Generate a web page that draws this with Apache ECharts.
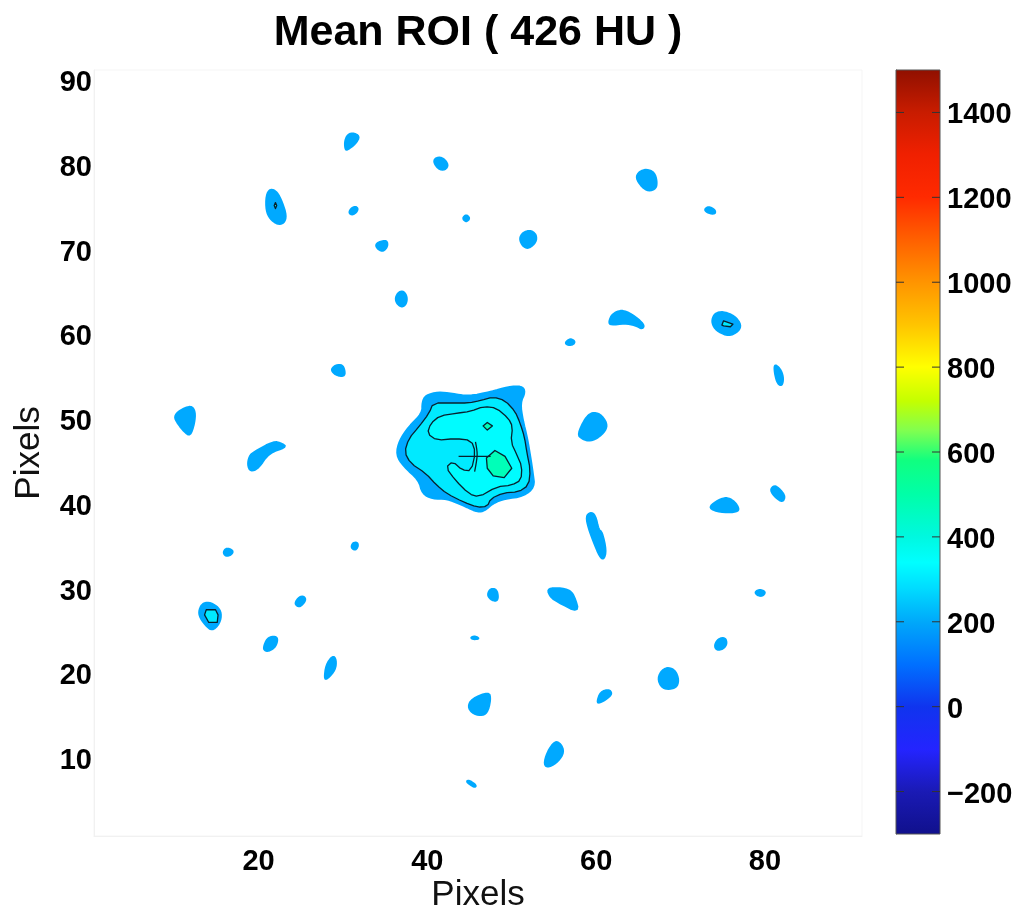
<!DOCTYPE html>
<html>
<head>
<meta charset="utf-8">
<script src="https://cdn.jsdelivr.net/npm/echarts@6/dist/echarts.min.js"></script>
<style>html,body{margin:0;padding:0;background:#fff}#chart{width:1021px;height:914px}</style>
</head>
<body>
<div id="chart"></div>
<script>
// Tick labels
const xTicks = [20, 40, 60, 80];
const yTicks = [10, 20, 30, 40, 50, 60, 70, 80, 90];
const barTicks = [-200, 0, 200, 400, 600, 800, 1000, 1200, 1400];
const barRange = [-300, 1500];

// Colour scale: [HU, colour]
const barStops = [
  [-300, '#10108c'], [-200, '#1a1ab4'], [-100, '#2424ff'], [0, '#1034ee'], [100, '#0070ff'],
  [200, '#00a8fa'], [280, '#00dcff'], [340, '#00ffff'], [400, '#00f8e0'], [500, '#00ffa8'],
  [580, '#10ff80'], [650, '#80ff50'], [720, '#c4ff00'], [800, '#ffff00'], [900, '#ffc400'],
  [1000, '#ff9400'], [1100, '#ff6000'], [1200, '#ff2a00'], [1300, '#f02000'], [1400, '#c81c00'],
  [1500, '#901000']
];

// Contour regions, in pixel-grid data units
const levelOneBlobs = [
  [[21.4,77.2],[22.2,76.8],[22.8,75.6],[23.3,74.0],[23.0,73.1],[22.2,73.0],[21.4,73.6],[20.9,74.6],[20.9,76.4]],
  [[30.3,81.7],[30.2,82.7],[30.5,83.5],[31.1,83.8],[32.0,83.4],[31.5,82.5],[30.7,81.9]],
  [[30.7,74.4],[31.0,74.9],[31.5,75.1],[31.8,74.8],[31.5,74.3],[31.0,74.1]],
  [[33.85,70.5],[34.2,70.9],[35.2,71.1],[35.3,70.4],[34.8,69.8],[34.2,70.0]],
  [[40.7,80.4],[41.1,80.9],[41.9,80.8],[42.5,80.0],[42.1,79.4],[41.3,79.5]],
  [[44.15,73.7],[44.6,74.15],[45.05,73.7],[44.6,73.25]],
  [[50.9,71.3],[51.3,72.0],[52.2,72.3],[52.9,71.8],[52.9,70.9],[52.0,70.1],[51.3,70.4]],
  [[64.7,78.5],[65.1,79.2],[66.0,79.5],[66.9,79.1],[67.2,78.1],[67.1,77.2],[66.2,76.9],[65.4,77.4]],
  [[72.8,74.7],[73.3,75.1],[74.1,74.7],[74.1,74.2],[73.3,74.3]],
  [[61.5,61.5],[61.9,62.4],[63.0,62.9],[64.2,62.4],[65.7,61.2],[65.5,60.6],[64.6,61.1],[63.4,61.3],[61.7,61.1]],
  [[73.7,61.7],[74.1,62.5],[75.0,62.7],[76.4,62.2],[77.2,61.1],[76.8,60.3],[75.7,59.8],[74.5,60.3],[73.9,60.9]],
  [[56.3,59.0],[56.9,59.5],[57.5,59.2],[57.3,58.8],[56.7,58.7]],
  [[81.1,56.2],[81.3,56.4],[81.9,55.8],[82.2,54.8],[82.0,53.9],[81.5,54.2],[81.2,55.2]],
  [[36.2,64.3],[36.6,65.0],[37.2,65.1],[37.6,64.4],[37.5,63.6],[37.0,63.2],[36.4,63.6]],
  [[28.6,55.9],[29.2,56.4],[29.9,56.4],[30.2,55.8],[30.2,55.1],[29.5,55.1],[28.9,55.4]],
  [[57.8,48.2],[58.7,50.1],[59.5,50.8],[60.5,50.6],[61.3,49.5],[61.1,48.6],[60.1,47.7],[59.1,47.4],[58.3,47.7]],
  [[10.0,50.3],[10.6,51.0],[12.0,51.6],[12.5,50.9],[12.4,49.5],[11.9,48.0],[11.2,48.5],[10.4,49.5]],
  [[18.7,44.6],[18.9,45.6],[19.4,46.1],[21.8,47.4],[22.8,47.1],[23.3,46.7],[21.2,46.0],[20.0,44.2],[19.05,43.8]],
  [[15.8,34.3],[16.2,34.8],[17.0,34.5],[16.8,34.0],[16.1,33.8]],
  [[31.0,35.0],[31.2,35.4],[31.7,35.45],[31.8,35.0],[31.5,34.55],[31.1,34.7]],
  [[12.9,27.3],[13.3,28.2],[14.1,28.4],[15.1,27.9],[15.6,27.1],[15.4,25.9],[14.5,25.0],[13.7,25.7],[13.1,26.5]],
  [[24.3,28.3],[24.8,29.0],[25.4,29.1],[25.6,28.6],[25.0,27.9],[24.6,27.9]],
  [[20.6,23.1],[21.0,24.1],[21.8,24.4],[22.3,24.1],[22.0,23.1],[21.2,22.6],[20.7,22.7]],
  [[27.8,19.4],[28.0,21.0],[28.8,22.1],[29.2,21.6],[29.1,20.4],[28.1,19.3]],
  [[58.8,38.5],[59.3,39.0],[59.9,38.7],[60.3,36.9],[60.7,36.7],[61.2,34.5],[60.9,33.4],[60.4,33.8],[59.7,35.5],[59.1,37.1]],
  [[73.3,39.5],[74.2,40.3],[75.4,40.8],[76.4,40.3],[77.0,39.3],[76.4,39.0],[74.7,39.0]],
  [[80.6,41.6],[81.1,42.2],[81.8,41.7],[82.4,40.9],[82.1,40.2],[81.3,40.7]],
  [[47.1,29.3],[47.5,30.0],[48.2,29.9],[48.4,29.0],[48.2,28.5],[47.5,28.7]],
  [[54.2,29.9],[55.1,30.1],[56.7,29.9],[57.4,29.2],[58.0,27.1],[55.3,28.5],[54.6,29.0]],
  [[78.8,29.6],[79.4,29.9],[80.1,29.6],[79.7,29.1],[79.1,29.2]],
  [[45.1,24.2],[45.6,24.4],[46.2,24.1],[45.5,24.0]],
  [[74.0,23.3],[74.5,24.1],[75.3,24.2],[75.5,23.5],[75.1,22.9],[74.3,22.7]],
  [[67.3,19.4],[67.8,20.4],[68.6,20.7],[69.4,20.3],[69.8,19.2],[69.5,18.3],[68.4,18.1],[67.7,18.4]],
  [[60.1,16.6],[60.5,17.8],[61.5,18.1],[61.9,17.6],[61.3,17.0],[60.4,16.5]],
  [[44.8,16.1],[45.3,17.0],[47.3,17.8],[47.5,16.9],[47.1,15.3],[46.3,15.0],[45.3,15.3]],
  [[53.8,9.2],[54.2,10.7],[55.1,12.0],[55.8,11.7],[56.2,10.7],[55.5,9.6],[54.4,8.9]],
  [[44.6,7.2],[44.9,7.4],[45.8,6.8],[45.6,6.5]],
  [[39.8,52.8],[41.3,53.2],[42.9,53.0],[44.9,52.7],[47.5,53.2],[49.6,53.8],[51.2,53.9],[51.6,53.2],[51.0,51.9],[51.3,49.9],[51.8,47.9],[52.2,45.6],[52.5,43.6],[52.7,42.0],[51.4,40.9],[49.2,40.6],[47.8,40.1],[46.7,39.1],[45.7,39.1],[44.1,39.9],[42.3,40.6],[40.6,40.6],[39.4,41.2],[39.0,42.8],[37.2,44.4],[36.3,45.8],[36.7,47.5],[37.8,49.1],[39.4,50.7],[39.4,52.0]]
];
const levelTwoBlobs = [
  [[21.85,75.2],[22.0,75.55],[22.15,75.2],[22.0,74.85]],
  [[74.9,61.1],[75.1,61.6],[76.2,61.2],[75.9,60.9],[75.1,61.0]],
  [[13.6,26.9],[13.8,27.5],[14.9,27.5],[15.2,26.9],[15.1,26.0],[14.1,26.0]],
  [[40.7,51.9],[42.9,51.9],[44.9,51.9],[46.3,52.2],[47.8,52.6],[49.2,52.2],[50.4,50.9],[51.0,49.5],[51.5,47.9],[51.8,46.0],[52.2,44.0],[52.0,42.2],[50.8,41.4],[49.0,41.3],[47.5,40.6],[47.1,39.7],[45.9,39.6],[44.3,40.2],[42.3,41.2],[41.1,42.2],[39.8,43.6],[38.0,44.8],[37.3,46.1],[37.8,47.7],[39.0,49.1],[40.2,50.7]]
];
const levelThreeBlobs = [
  [[40.0,48.3],[40.4,49.5],[41.5,50.4],[43.5,50.7],[45.1,50.9],[46.7,51.5],[48.2,51.3],[49.6,50.1],[50.1,49.1],[49.9,47.3],[50.6,45.8],[51.2,44.4],[51.1,42.8],[50.0,42.2],[48.2,42.0],[46.1,40.8],[44.9,41.2],[43.3,42.8],[42.2,44.3],[43.0,45.0],[44.1,44.0],[45.2,43.9],[45.7,46.1],[45.2,47.5],[43.3,47.7],[41.1,47.5]]
];
const levelFourBlobs = [
  [[47.0,45.4],[48.0,46.3],[49.2,45.6],[50.0,44.2],[49.1,43.1],[47.8,43.3],[47.1,44.2]],
  [[46.6,49.2],[47.1,49.6],[47.7,49.2],[47.1,48.7]]
];
const innerLines = [
  [[43.7,45.6],[47.5,45.6]],
  [[45.7,47.3],[45.9,45.8],[45.6,43.8]]
];

// Corner-cutting that rounds an outline once it has been projected to the screen.
function roundOutline(points, passes) {
  let out = points;
  for (let k = 0; k < passes; k++) {
    const next = [];
    out.forEach((p, i) => {
      const q = out[(i + 1) % out.length];
      next.push([p[0] * 0.75 + q[0] * 0.25, p[1] * 0.75 + q[1] * 0.25]);
      next.push([p[0] * 0.25 + q[0] * 0.75, p[1] * 0.25 + q[1] * 0.75]);
    });
    out = next;
  }
  return out;
}

function blobSeries(blobs, fill, stroke, passes, minPoints, lineWidth) {
  return {
    type: 'custom', xAxisIndex: 0, yAxisIndex: 0, silent: true, clip: true,
    data: blobs.map(b => b[0]),
    renderItem: (params, api) => {
      const blob = blobs[params.dataIndex];
      const pts = blob.map(p => api.coord(p));
      return {
        type: 'polygon',
        shape: { points: blob.length >= minPoints ? roundOutline(pts, passes) : pts },
        style: { fill: fill, stroke: stroke, lineWidth: lineWidth, lineJoin: 'round' }
      };
    }
  };
}

const tickFont = { color: '#000', fontFamily: 'Liberation Sans', fontWeight: 'bold', fontSize: 29 };
const nameFont = { color: '#111', fontFamily: 'Liberation Sans', fontSize: 35 };
const faint = { lineStyle: { color: '#f1f1f1', width: 1 } };
// Label text sits a little below its tick in the original.
const nudged = { t: Object.assign({ padding: [6, 0, 0, 0] }, tickFont) };
const yLabel = v => '{t|' + v + '}';
const barLabel = v => '{t|' + (v < 0 ? '\u2212' + (-v) : v) + '}';

const option = {
  animation: false,
  backgroundColor: '#fff',
  title: {
    text: 'Mean ROI ( 426 HU )', left: 473, top: 7, textAlign: 'center',
    textStyle: { color: '#000', fontFamily: 'Liberation Sans', fontWeight: 'bold', fontSize: 43 }
  },
  grid: [
    { left: 94, top: 70, width: 768, height: 766, show: true, borderColor: '#f5f5f5', borderWidth: 1, backgroundColor: '#fff', outerBoundsMode: 'none' },
    { left: 896, top: 70, width: 44, height: 764, outerBoundsMode: 'none' }
  ],
  xAxis: [
    { type: 'value', gridIndex: 0, min: 0.5, max: 91.5, name: 'Pixels', nameLocation: 'middle', nameGap: 42, nameMoveOverlap: false, nameTextStyle: nameFont,
      axisLine: faint, axisTick: { show: false }, splitLine: { show: false },
      axisLabel: Object.assign({ margin: 11, customValues: xTicks }, tickFont) },
    { type: 'value', gridIndex: 1, min: 0, max: 1, show: false }
  ],
  yAxis: [
    { type: 'value', gridIndex: 0, min: 0.8, max: 91.2, name: 'Pixels', nameLocation: 'middle', nameGap: 47, nameTextStyle: nameFont,
      axisLine: faint, axisTick: { show: false }, splitLine: { show: false },
      axisLabel: Object.assign({ margin: 2, customValues: yTicks, formatter: yLabel, rich: nudged }, tickFont) },
    { type: 'value', gridIndex: 1, position: 'right', min: barRange[0], max: barRange[1],
      axisLine: { show: true, lineStyle: { color: '#555' } }, splitLine: { show: false }, axisTick: { show: false },
      axisLabel: Object.assign({ margin: 7, customValues: barTicks, formatter: barLabel, rich: nudged }, tickFont) }
  ],
  series: [
    blobSeries(levelOneBlobs, '#00a9ff', '#00a9ff', 2, 0, 2),
    blobSeries(levelTwoBlobs, '#00eaff', '#08222e', 1, 8, 1.3),
    blobSeries(levelThreeBlobs, '#00fcff', '#08222e', 1, 8, 1.3),
    blobSeries(levelFourBlobs, '#00ffb8', '#08222e', 0, 0, 1.3),
    {
      type: 'custom', xAxisIndex: 0, yAxisIndex: 0, silent: true,
      data: innerLines.map(l => l[0]),
      renderItem: (params, api) => ({
        type: 'polyline',
        shape: { points: innerLines[params.dataIndex].map(p => api.coord(p)), smooth: 0.3 },
        style: { fill: 'none', stroke: '#08222e', lineWidth: 1.3 }
      })
    },
    {
      type: 'custom', xAxisIndex: 1, yAxisIndex: 1, silent: true,
      data: [[0, barRange[0], 1, barRange[1]]],
      renderItem: (params, api) => {
        const a = api.coord([api.value(0), api.value(1)]);
        const b = api.coord([api.value(2), api.value(3)]);
        const span = barRange[1] - barRange[0];
        return {
          type: 'rect',
          shape: { x: a[0], y: b[1], width: b[0] - a[0], height: a[1] - b[1] },
          style: {
            stroke: '#555', lineWidth: 1,
            fill: new echarts.graphic.LinearGradient(0, 1, 0, 0,
              barStops.map(s => ({ offset: (s[0] - barRange[0]) / span, color: s[1] })))
          }
        };
      }
    },
    {
      type: 'custom', xAxisIndex: 1, yAxisIndex: 1, silent: true, z: 5,
      data: barTicks.map(v => [v]),
      renderItem: (params, api) => {
        const v = api.value(0);
        const l = api.coord([0, v]);
        const r = api.coord([1, v]);
        const style = { stroke: '#333', lineWidth: 1 };
        return {
          type: 'group',
          children: [
            { type: 'line', shape: { x1: l[0], y1: l[1], x2: l[0] + 8, y2: l[1] }, style: style },
            { type: 'line', shape: { x1: r[0] - 8, y1: r[1], x2: r[0], y2: r[1] }, style: style }
          ]
        };
      }
    }
  ]
};
echarts.init(document.getElementById('chart'), null, { renderer: 'canvas' }).setOption(option);
</script>
</body>
</html>
